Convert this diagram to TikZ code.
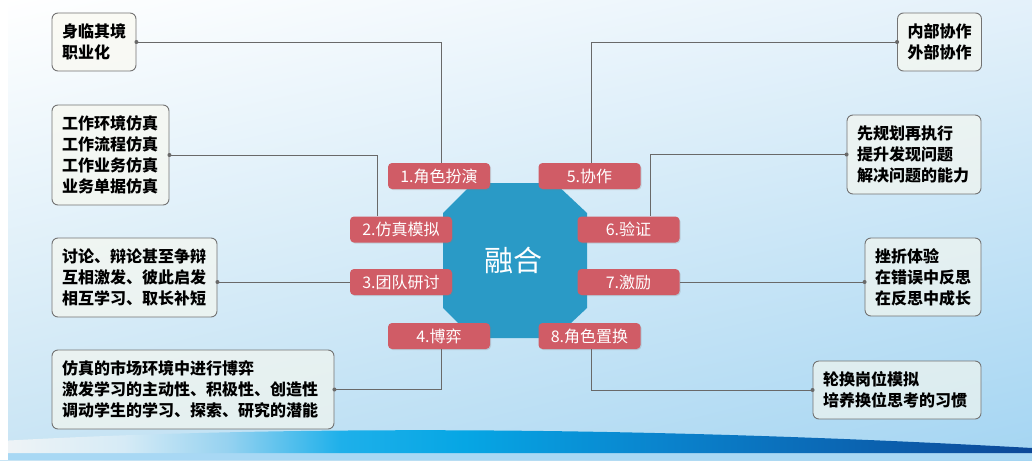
\documentclass[tikz,border=0pt]{standalone}
\usepackage{fontspec}
\setmainfont{Noto Sans CJK SC}
\usetikzlibrary{shadows,shadings}
\definecolor{lblred}{RGB}{208,92,102}
\definecolor{octblue}{RGB}{42,154,198}
\definecolor{linegray}{RGB}{105,105,105}
\definecolor{boxborder}{RGB}{115,115,115}
\definecolor{boxfill}{RGB}{250,249,238}
\definecolor{bgUR}{RGB}{228,241,250}
\definecolor{bgLL}{RGB}{200,228,244}
\definecolor{bgLR}{RGB}{164,213,242}
\definecolor{stripc}{RGB}{168,216,244}
\definecolor{bA}{RGB}{240,244,246}
\definecolor{bB}{RGB}{214,235,246}
\definecolor{bC}{RGB}{150,210,240}
\definecolor{bD}{RGB}{30,176,234}
\definecolor{bE}{RGB}{6,166,228}
\definecolor{bF}{RGB}{10,130,204}
\definecolor{bG}{RGB}{12,72,152}
\pgfdeclarehorizontalshading{bandshade}{100bp}{color(0bp)=(bA); color(25bp)=(bA); color(31bp)=(bB); color(36bp)=(bC); color(41.5bp)=(bD); color(47.5bp)=(bE); color(57.5bp)=(bF); color(75bp)=(bG); color(100bp)=(bG)}
\tikzset{
  box/.style={draw=boxborder, line width=0.9pt, rounded corners=6pt, fill=boxfill,
    fill opacity=0.6, text opacity=1, align=left, inner xsep=10pt, inner ysep=0pt,
    font=\fontsize{16}{21}\selectfont\bfseries, text=black},
  lbl/.style={fill=lblred, rounded corners=4pt, minimum width=102pt, minimum height=26pt,
    inner sep=0pt, text=white, font=\fontsize{16}{18}\selectfont,
    drop shadow={shadow xshift=1pt, shadow yshift=-1pt, opacity=0.25}},
  conn/.style={draw=linegray, line width=0.9pt},
}
\begin{document}
\begin{tikzpicture}[x=1pt,y=-1pt]
\useasboundingbox (0,0) rectangle (1032,460);
% background
\shade[upper left=white, upper right=bgUR, lower left=bgLL, lower right=bgLR] (0,0) rectangle (1032,460);
\fill[stripc] (0,453) rectangle (1032,460);
\shade[shading=bandshade] (0,441) .. controls (250,427) and (600,424) .. (1032,448) -- (1032,453) -- (0,453) -- cycle;
\fill[white] (0,0) rectangle (8,460);
% octagon
\fill[octblue] (473,183) -- (555,183) -- (587,213) -- (587,308) -- (555,338) -- (473,338) -- (443,308) -- (443,213) -- cycle;
\node[text=white, font=\fontsize{29}{30}\selectfont] (core) at (513,260) {融合};
% boxes
\node[box, text width=64pt, minimum height=58pt] (A) at (94,42) {身临其境\\职业化};
\node[box, text width=97pt, minimum height=100pt] (B) at (110.5,155) {工作环境仿真\\工作流程仿真\\工作业务仿真\\业务单据仿真};
\node[box, text width=145pt, minimum height=79pt] (C) at (134.5,277.5) {讨论、辩论甚至争辩\\互相激发、彼此启发\\相互学习、取长补短};
\node[box, text width=262pt, minimum height=79pt] (D) at (193,389.5) {仿真的市场环境中进行博弈\\激发学习的主动性、积极性、创造性\\调动学生的学习、探索、研究的潜能};
\node[box, text width=64pt, minimum height=58pt] (E) at (939.5,42) {内部协作\\外部协作};
\node[box, text width=114pt, minimum height=79pt] (F) at (914,154.5) {先规划再执行\\提升发现问题\\解决问题的能力};
\node[box, text width=96pt, minimum height=78pt] (G) at (923,277) {挫折体验\\在错误中反思\\在反思中成长};
\node[box, text width=148pt, minimum height=58pt] (H) at (897,390) {轮换岗位模拟\\培养换位思考的习惯};
% labels
\node[lbl] (L1) at (439,176) {1.角色扮演};
\node[lbl] (L2) at (401,229.5) {2.仿真模拟};
\node[lbl] (L3) at (401,282) {3.团队研讨};
\node[lbl] (L4) at (439,336) {4.博弈};
\node[lbl] (L5) at (589.5,176) {5.协作};
\node[lbl] (L6) at (628.5,229.5) {6.验证};
\node[lbl] (L7) at (628.5,282) {7.激励};
\node[lbl] (L8) at (589.5,336) {8.角色置换};
% connectors
\draw[conn] (A.east) -| ([xshift=2pt]L1.north);
\draw[conn] (B.east) -| ([xshift=-24pt]L2.north);
\draw[conn] (L3.west -| C.east) -- (L3.west);
\draw[conn] (D.east) -| ([xshift=2pt]L4.south);
\draw[conn] (E.west) -| ([xshift=2pt]L5.north);
\draw[conn] (F.west) -| ([xshift=22pt]L6.north);
\draw[conn] (L7.east) -- (L7.east -| G.west);
\draw[conn] (H.west) -| ([xshift=2pt]L8.south);
\fill[linegray] (A.east) circle (2pt) (B.east) circle (2pt) (L3.west -| C.east) circle (2pt)
  (D.east) circle (2pt) (E.west) circle (2pt) (F.west) circle (2pt)
  (L7.east -| G.west) circle (2pt) (H.west) circle (2pt);
\end{tikzpicture}
\end{document}
